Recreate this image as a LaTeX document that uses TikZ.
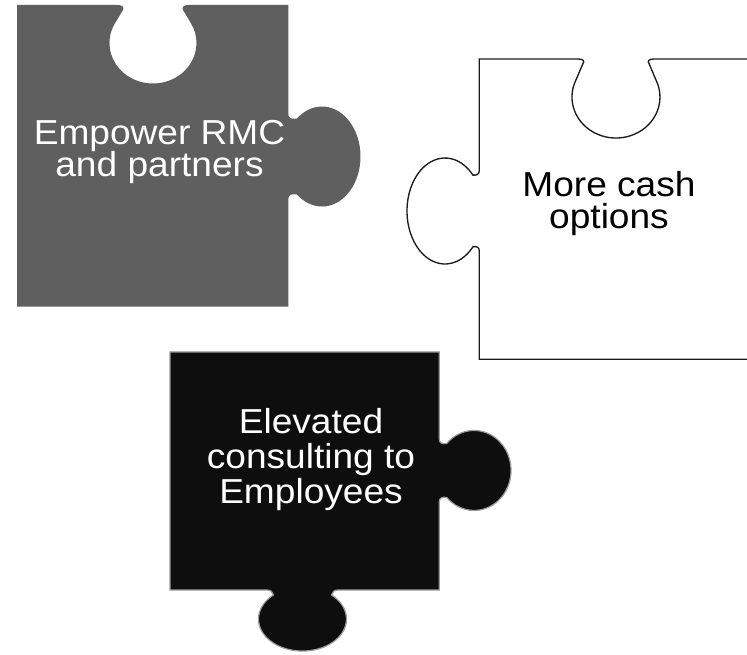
\documentclass[tikz,border=0pt]{standalone}
\usepackage{fontspec}
\newfontfamily\pzfont[FakeStretch=1.07]{Liberation Sans}
\definecolor{pzgray}{HTML}{5F5F5F}
\definecolor{pzblack}{HTML}{0E0E0E}
\definecolor{pzedge}{HTML}{9A9A9A}
\definecolor{pzline}{HTML}{1A1A1A}
\begin{document}
\begin{tikzpicture}[x=0.75pt,y=-0.75pt,
  pzgraypiece/.style={fill=pzgray},
  pzwhitepiece/.style={fill=white, draw=pzline, line width=1pt},
  pzblackpiece/.style={fill=pzblack, draw=pzedge, line width=0.9pt},
  pzlabel/.style={align=center, inner sep=0pt, anchor=north,
    font={\pzfont\fontsize{26}{#1}\selectfont\lineskiplimit=-30pt}}]
\useasboundingbox (0,0) rectangle (747,655);
\clip (0,0) rectangle (747,655);
% grey piece
\path[pzgraypiece] (17,5) -- (118,5) .. controls (122,5) and (124.5,7) .. (123,10)
  -- (115.3,22.75) arc[start angle=210, end angle=-30, x radius=43.5, y radius=40.5]
  -- (183,10) .. controls (181.5,7) and (184,5) .. (188,5) -- (288.3,5)
  -- (288.3,114) .. controls (288.3,118) and (291,119.5) .. (297,118.5)
  arc[start angle=-130.5, end angle=130.5, x radius=38.5, y radius=50]
  .. controls (291,193.5) and (288.3,195) .. (288.3,199)
  -- (288.3,306.7) -- (17,306.7) -- cycle;
% white piece
\path[pzwhitepiece] (479.3,359.3) -- (479.3,251) .. controls (479.3,247.5) and (477,246) .. (473,246.8)
  arc[start angle=42.5, end angle=317.5, x radius=38, y radius=53]
  .. controls (477,175.5) and (479.3,174) .. (479.3,170.5)
  -- (479.3,59) -- (578,59) .. controls (583,59) and (585,61) .. (583,63.5)
  -- (576.1,79.7) arc[start angle=205, end angle=-25, x radius=44, y radius=41]
  -- (649,63.5) .. controls (647,61) and (649,59) .. (654,59)
  -- (760,59) -- (760,359.3) -- cycle;
% black piece
\path[pzblackpiece] (170,352) -- (439.3,352) -- (439.3,439)
  .. controls (439.3,443) and (442,444.5) .. (446.8,443.4)
  arc[start angle=-137.4, end angle=137.4, x radius=37, y radius=40]
  .. controls (442,496.5) and (439.3,498) .. (439.3,502)
  -- (439.3,590) -- (338,590) .. controls (334,590) and (332.5,592) .. (331.5,595)
  arc[start angle=-48.7, end angle=228.7, x radius=44, y radius=32]
  .. controls (272.5,592) and (271,590) .. (267,590) -- (170,590) -- cycle;
% labels
\node[pzlabel=24.3, text=white] (tgray) at (159.5,117.6) {\rule{0pt}{20pt}Empower RMC\\and partners};
\node[pzlabel=23.7, text=black] (twhite) at (609,170) {\rule{0pt}{20pt}More cash\\options};
\node[pzlabel=26.25, text=white] (tblack) at (311,406.6) {\rule{0pt}{20pt}Elevated\\consulting to\\Employees};
\end{tikzpicture}
\end{document}
